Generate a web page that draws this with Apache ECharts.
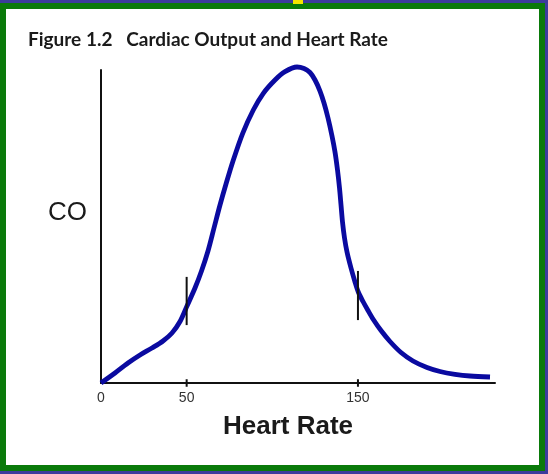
<!DOCTYPE html>
<html>
<head>
<meta charset="utf-8">
<script src="https://cdn.jsdelivr.net/npm/echarts@6/dist/echarts.min.js"></script>
<style>
html,body{margin:0;padding:0;background:#3c3c9c;}
#c{width:548px;height:474px;}
</style>
</head>
<body>
<div id="c"></div>
<script>
// Heart rate (x) and relative cardiac output (y)
const heartRate = [0, 8.17, 15.76, 22.77, 29.77, 36.19, 41.45, 46.12, 50.20, 54.87, 58.67, 62.46, 65.97, 69.47, 72.97, 77.06, 82.72, 88.91, 94.75, 101.58, 107.41, 114.42,
  118.51, 122.01, 124.93, 127.85, 130.18, 132.52, 134.85, 136.60, 138.06, 139.23, 140.11, 140.98, 142.15, 143.61, 145.94, 148.28, 150.20, 152.95, 155.87, 158.96, 163.46, 168.71, 175.13, 182.14, 190.31, 197.90, 206.65, 215.41, 227.09];
const cardiacOutput = [0, 3.19, 6.39, 8.95, 11.18, 13.42, 15.97, 19.65, 24.60, 30.35, 35.78, 42.17, 49.52, 56.87, 63.58, 70.93, 79.78, 87.22, 92.56, 96.81, 99.46, 100.96,
  100.48, 99.20, 96.81, 93.29, 89.46, 84.66, 78.91, 73.80, 68.05, 62.30, 56.87, 51.44, 46.33, 41.85, 36.74, 32.27, 29.07, 26.04, 23.16, 20.29, 16.77, 13.26, 9.74, 7.03, 4.95, 3.67, 2.78, 2.24, 1.92];
const tickLabels = [0, 50, 150];
const markerX = [50, 150];
const markerLow = [18.5, 20.1];
const markerHigh = [33.9, 35.8];

const curve = heartRate.map((x, i) => [x, cardiacOutput[i]]);
const markerSeries = markerX.map((x, i) => ({
  type: 'line',
  data: [[x, markerLow[i]], [x, markerHigh[i]]],
  symbol: 'none',
  lineStyle: { color: '#111', width: 2 },
  clip: false,
  silent: true,
  z: 5
}));
const axisTickSeries = markerX.map((x) => ({
  type: 'line',
  data: [[x, -1.2], [x, 1.2]],
  symbol: 'none',
  lineStyle: { color: '#111', width: 2 },
  clip: false,
  silent: true,
  z: 2
}));

const chart = echarts.init(document.getElementById('c'));
chart.setOption({
  backgroundColor: '#3c3c9c',
  animation: false,
  graphic: [
    { type: 'rect', z: -10, shape: { x: 0, y: 3, width: 545, height: 468 }, style: { fill: '#0a7a0a' } },
    { type: 'rect', z: -9, shape: { x: 6, y: 9, width: 533, height: 456 }, style: { fill: '#ffffff' } },
    { type: 'rect', z: -8, shape: { x: 293, y: 0, width: 10, height: 4 }, style: { fill: '#f5e600' } },
    { type: 'text', z: 10, style: { text: 'CO', x: 87, y: 213, align: 'right', verticalAlign: 'middle',
      font: '26px "Liberation Sans"', fill: '#1a1a1a' } }
  ],
  title: {
    text: 'Figure 1.2   Cardiac Output and Heart Rate',
    left: 23, top: 25,
    textStyle: { fontFamily: 'Lato', fontWeight: 'bold', fontSize: 19, color: '#1a1a1a' }
  },
  grid: { left: 101, right: 53, top: 70, bottom: 91 },
  xAxis: {
    type: 'value', min: 0, max: 230,
    name: 'Heart Rate', nameLocation: 'middle', nameGap: 31,
    nameTextStyle: { fontFamily: 'Liberation Sans', fontWeight: 'bold', fontSize: 26, color: '#1a1a1a', padding: [0, 20, 0, 0] },
    axisLine: { lineStyle: { color: '#111', width: 2 } },
    axisTick: { show: false },
    axisLabel: { customValues: tickLabels, margin: 8, fontFamily: 'Liberation Sans', fontSize: 14, color: '#333' },
    splitLine: { show: false }
  },
  yAxis: {
    type: 'value', min: 0, max: 100,
    axisLine: { show: true, lineStyle: { color: '#111', width: 2 } },
    axisTick: { show: false },
    axisLabel: { show: false },
    splitLine: { show: false }
  },
  series: [
    {
      type: 'line', data: curve, smooth: 0.3, symbol: 'none', clip: false,
      lineStyle: { color: '#0a0aa0', width: 4.8 }, z: 3
    }
  ].concat(markerSeries, axisTickSeries)
});
</script>
</body>
</html>
